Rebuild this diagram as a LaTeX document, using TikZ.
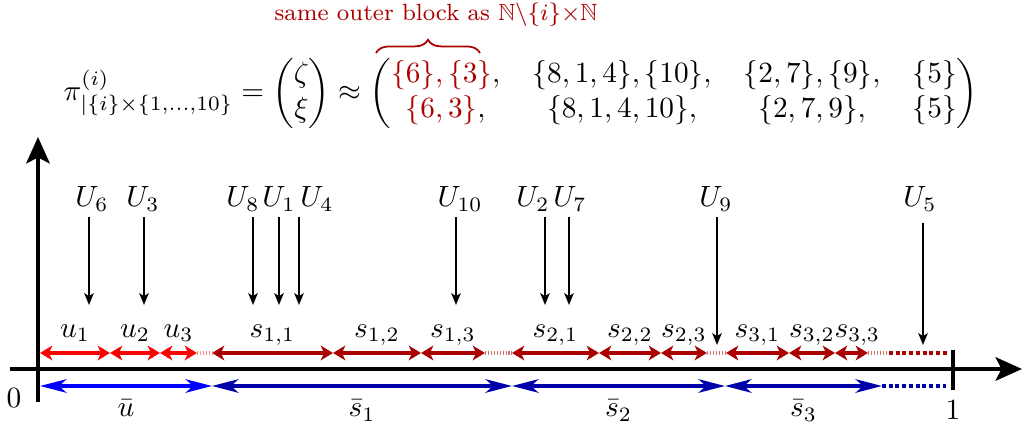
\documentclass[tikz,border=0pt]{standalone}
\usepackage{amsmath,amssymb}
\usetikzlibrary{arrows.meta,decorations.pathreplacing}
\definecolor{darkred}{RGB}{170,0,0}
\definecolor{darkblue}{RGB}{0,0,170}

\begin{document}
\begin{tikzpicture}[x=0.012cm, y=-0.012cm,
    axis/.style={line width=1.4pt, -{Stealth[length=9pt,width=8pt,inset=2pt]}},
    fall/.style={line width=0.8pt, -{Stealth[length=4pt,width=3.2pt,inset=1pt]}},
    part/.style={line width=1.3pt, {Stealth[length=4.2pt,width=5pt,inset=1.2pt]}-{Stealth[length=4.2pt,width=5pt,inset=1.2pt]}},
    bpart/.style={line width=1.2pt, {Stealth[length=9pt,width=4.6pt,inset=2.5pt]}-{Stealth[length=9pt,width=4.6pt,inset=2.5pt]}},
    gap/.style={line width=1.3pt, dash pattern=on 0.5pt off 0.5pt},
    tail/.style={line width=1.3pt, dash pattern=on 1.3pt off 1pt},
    lab/.style={anchor=base, inner sep=0pt, text=black}]

    %% Ordering of the uniforms into blocks

    \useasboundingbox (0,0) rectangle (1027,428);

    \newcommand{\sample}[5]{
        \node[lab] (U#1) at (#2,207) {$U_{#1}$};
        \coordinate (U#1t) at (#3,#4);
        \coordinate (U#1b) at (#3,#5);
        \draw[fall] (U#1t) -- (U#1b);
    }

    % Partition
    \node[inner sep=0pt] (pi) at (521,93) {\setlength{\arraycolsep}{5.5pt}$\pi^{(i)}_{|\{i\}\times\{1,\ldots,10\}}
        = \begin{pmatrix}\zeta\\ \xi\end{pmatrix}
        \approx \begin{pmatrix}
            \textcolor{darkred}{\{6\},\{3\}}, & \{8,1,4\},\{10\}, & \{2,7\},\{9\}, & \{5\}\\
            \textcolor{darkred}{\{6,3\}}, & \{8,1,4,10\}, & \{2,7,9\}, & \{5\}
        \end{pmatrix}$};
    \coordinate (bl) at (376,53);
    \coordinate (br) at (480,53);
    \draw[darkred, line width=0.6pt, decorate, decoration={brace, amplitude=4.5pt}] (bl) -- (br);
    \node[darkred, font=\footnotesize] (same) at (436,15) {same outer block as $\mathbb{N}\backslash\{i\}{\times}\mathbb{N}$};

    % Axes
    \coordinate (xs) at (10,369);
    \coordinate (xe) at (1022,369);
    \coordinate (ys) at (38,402);
    \coordinate (ye) at (38,137);
    \draw[axis] (xs) -- (xe);
    \draw[axis] (ys) -- (ye);
    \coordinate (t1) at (953,350);
    \coordinate (t2) at (953,390);
    \draw[line width=1.4pt] (t1) -- (t2);
    \node (zero) at (14,398) {$0$};
    \node (one) at (953,410) {$1$};

    % Uniforms
    \sample{6}{92}{89}{217}{305}
    \sample{3}{143}{144}{217}{305}
    \sample{8}{243}{253}{217}{305}
    \sample{1}{279}{279}{217}{305}
    \sample{4}{317}{299}{217}{305}
    \sample{10}{460}{456}{217}{305}
    \sample{2}{533}{545}{217}{305}
    \sample{7}{570}{569}{217}{305}
    \sample{9}{716}{717}{217}{345}
    \sample{5}{920}{923}{223}{345}

    % Inner blocks
    \foreach \n/\x in {0/40,1/110,2/160,3/197,4/212,5/333,6/421,7/485,8/512,
                       9/599,10/661,11/707,12/726,13/789,14/835,15/868,16/889,17/948}
        \coordinate (r\n) at (\x,353);
    \foreach \a/\b/\c/\t in {0/1/red/u_1, 1/2/red/u_2, 2/3/red/u_3,
                             4/5/darkred/s_{1,1}, 5/6/darkred/s_{1,2}, 6/7/darkred/s_{1,3},
                             8/9/darkred/s_{2,1}, 9/10/darkred/s_{2,2}, 10/11/darkred/s_{2,3},
                             12/13/darkred/s_{3,1}, 13/14/darkred/s_{3,2}}
        \draw[part, \c] (r\a) -- node[lab, yshift=0.19cm] (l\a) {$\t$} (r\b);
    \draw[part, darkred] (r14) -- node[lab, yshift=0.19cm, xshift=2pt] (l14) {$s_{3,3}$} (r15);
    \draw[gap, red!45] (r3) -- (r4);
    \draw[gap, darkred!55] (r7) -- (r8);
    \draw[gap, darkred!55] (r11) -- (r12);
    \draw[gap, darkred!55] (r15) -- (r16);
    \draw[tail, darkred] (r16) -- (r17);

    % Outer blocks
    \foreach \n/\x in {0/40,1/212,2/512,3/725,4/882,5/948}
        \coordinate (b\n) at (\x,386);
    \foreach \a/\b/\c/\t in {0/1/blue/\bar{u}, 1/2/darkblue/\bar{s}_1,
                             2/3/darkblue/\bar{s}_2, 3/4/darkblue/\bar{s}_3}
        \draw[bpart, \c] (b\a) -- node[lab, yshift=-0.37cm] (m\a) {$\t$} (b\b);
    \draw[tail, darkblue, line width=1.2pt] (b4) -- (b5);

\end{tikzpicture}
\end{document}
